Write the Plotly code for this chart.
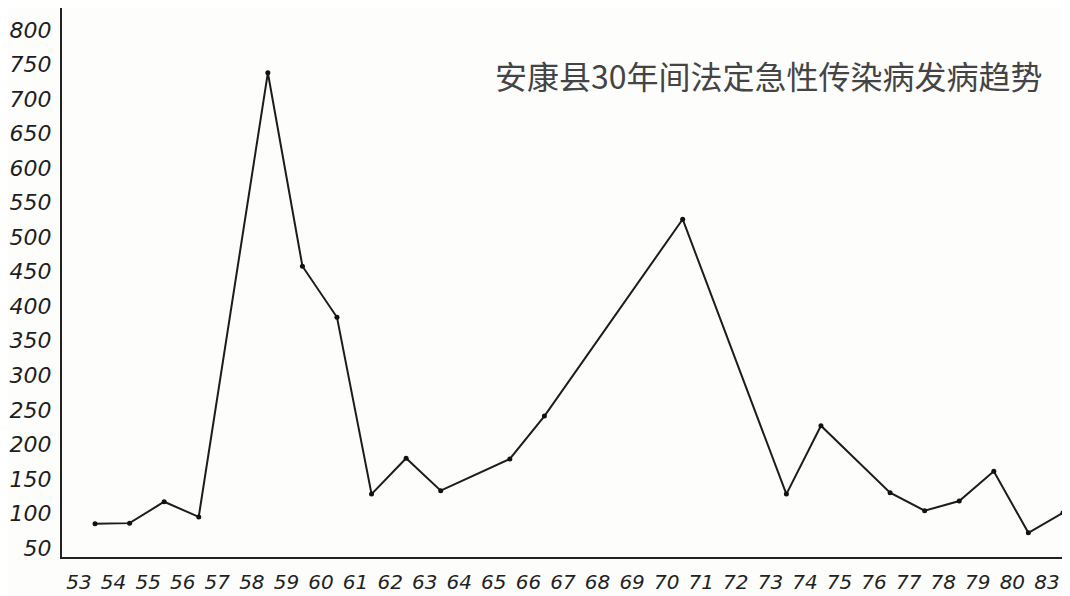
import plotly.graph_objects as go

# Axis tick labels (years, as written on the chart)
year_labels = ["53", "54", "55", "56", "57", "58", "59", "60", "61", "62",
               "63", "64", "65", "66", "67", "68", "69", "70", "71", "72",
               "73", "74", "75", "76", "77", "78", "79", "80", "83"]

# Years that carry a data point, and the incidence values
point_years = ["53", "54", "55", "56", "58", "59", "60", "61", "62", "63",
               "65", "66", "70", "73", "74", "76", "77", "78", "79", "80", "83"]
incidence = [85, 86, 117, 95, 738, 458, 384, 128, 180, 133,
             179, 241, 526, 128, 227, 130, 104, 118, 161, 72, 101]

y_ticks = [50, 100, 150, 200, 250, 300, 350, 400, 450, 500,
           550, 600, 650, 700, 750, 800]

title_text = "安康县30年间法定急性传染病发病趋势"

x_index = [year_labels.index(y) for y in point_years]

# page body has an 8px margin; figure sized to fill the rest of the window
W, H = 1062, 588
ML, MR, MT, MB = 54, 5, 0, 39

fig = go.Figure()
fig.add_trace(go.Scatter(
    x=x_index, y=incidence, mode="lines+markers",
    line=dict(color="#1c1c1c", width=2),
    marker=dict(color="#111111", size=5),
    hoverinfo="skip", showlegend=False,
))

fig.update_layout(
    width=W, height=H,
    margin=dict(l=ML, r=MR, t=MT, b=MB),
    paper_bgcolor="#fdfdfc", plot_bgcolor="#fdfdfc",
    xaxis=dict(
        range=[-0.955, 28.06],
        tickmode="array", tickvals=list(range(len(year_labels))), ticktext=year_labels,
        ticks="", showgrid=False, zeroline=False,
        showline=True, linecolor="#222222", linewidth=2,
        tickfont=dict(family="DejaVu Sans", size=20, color="#222222", style="italic"),
        ticklabelshift=-16, ticklabelstandoff=6,
    ),
    yaxis=dict(
        range=[36.97, 831.8],
        tickmode="array", tickvals=y_ticks, ticktext=[str(v) for v in y_ticks],
        ticks="", showgrid=False, zeroline=False,
        showline=True, linecolor="#222222", linewidth=2,
        tickfont=dict(family="DejaVu Sans", size=22, color="#1e1e1e", style="italic"),
        ticklabelstandoff=4,
    ),
    annotations=[dict(
        text=title_text, xref="paper", yref="paper",
        x=(1037 - ML) / (W - ML - MR), y=(H - MB - 67) / (H - MT - MB),
        xanchor="right", yanchor="middle", showarrow=False,
        font=dict(family="Noto Sans CJK SC", size=32, color="#444444"),
    )],
)

fig.write_html("out.html")
